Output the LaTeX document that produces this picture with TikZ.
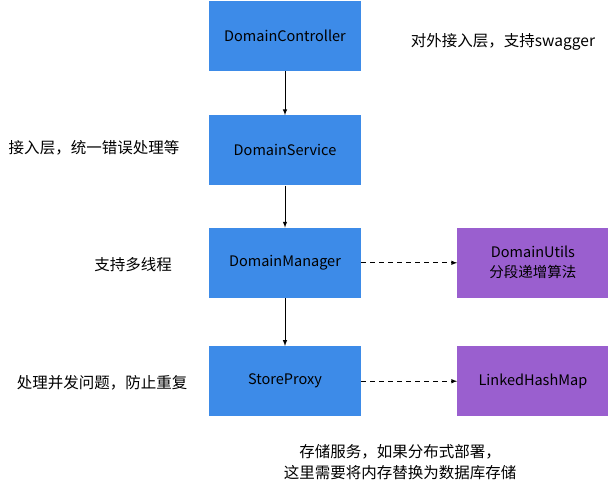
\documentclass[tikz,border=0pt]{standalone}
\usepackage{fontspec}
\setmainfont{Noto Sans CJK SC}
\usetikzlibrary{positioning}
\definecolor{layerblue}{RGB}{61,139,232}
\definecolor{toolpurple}{RGB}{154,95,207}
\tikzset{layer node/.style={rectangle,fill=layerblue,minimum width=152pt,minimum height=70pt,inner sep=0pt,font=\fontsize{14.5}{17}\selectfont},
  tool node/.style={rectangle,fill=toolpurple,minimum width=151pt,minimum height=70pt,inner sep=0pt,align=center,font=\fontsize{14.5}{20}\selectfont},
  note/.style={font=\fontsize{15.5}{21}\selectfont,align=center},}

\begin{document}
\begin{tikzpicture}[x=1pt,y=-1pt]
   \useasboundingbox (0,0) rectangle (609,488);
   \node[layer node] (ctrl) at (285,36) {DomainController};
   \node[layer node] (svc) [below = 44pt of ctrl] {DomainService};
   \node[layer node] (mgr) [below = 42pt of svc] {DomainManager};
   \node[layer node] (proxy) [below = 48pt of mgr] {StoreProxy};
   \node[tool node] (utils) [right = 96pt of mgr] {DomainUtils\\分段递增算法};
   \node[tool node] (map) [right = 96pt of proxy] {LinkedHashMap};

   % notes
   \node[note] (ctrlnote) at (503,42) {对外接入层，支持swagger};
   \node[note] (svcnote) at (94,148) {接入层，统一错误处理等};
   \node[note] (mgrnote) at (133,265) {支持多线程};
   \node[note] (proxynote) at (102,383) {处理并发问题，防止重复};
   \node[note] (storenote) at (400,462) {存储服务，如果分布式部署，\\这里需要将内存替换为数据库存储};

   \path[-latex,line width=1pt]
   (ctrl) edge node {} (svc)
   (svc) edge node {} (mgr)
   (mgr) edge node {} (proxy);
   \path[-latex,dash pattern=on 5pt off 4pt,line width=1pt]
   (mgr) edge node {} (utils)
   (proxy) edge node {} (map);
\end{tikzpicture}
\end{document}
